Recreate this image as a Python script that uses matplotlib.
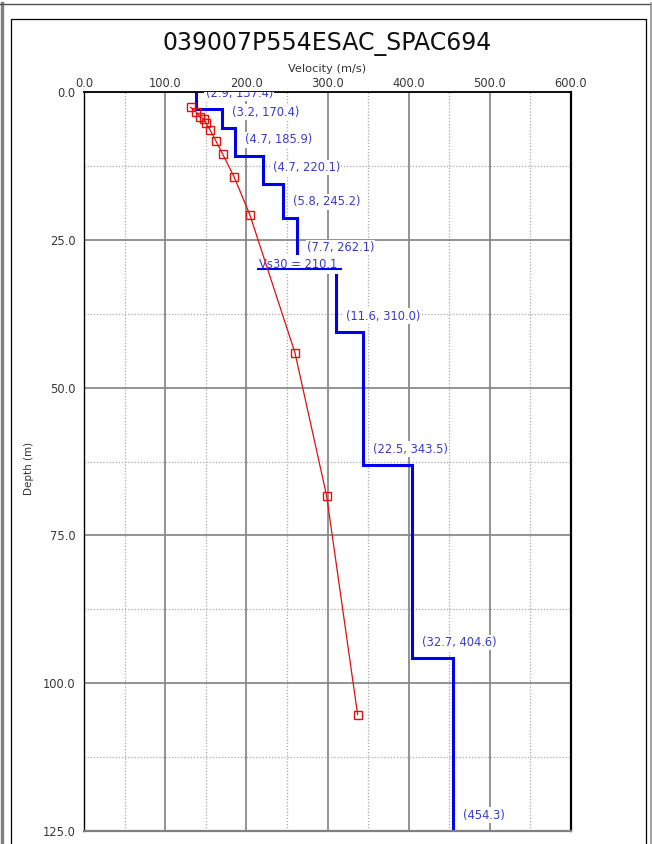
import matplotlib
matplotlib.use("Agg")
import matplotlib.pyplot as plt
import numpy as np
from matplotlib.lines import Line2D
from matplotlib.ticker import MultipleLocator, FormatStrFormatter

# ---------------- data ----------------
title = "039007P554ESAC_SPAC694"
x_label = "Velocity (m/s)"
y_label = "Depth (m)"
layer_thickness = [2.9, 3.2, 4.7, 4.7, 5.8, 7.7, 11.6, 22.5, 32.7]
layer_vs = [137.4, 170.4, 185.9, 220.1, 245.2, 262.1, 310.0, 343.5, 404.6, 454.3]
vs30 = 210.1
vs30_depth = 30.0
curve_v = [131.4, 138.3, 142.9, 148.2, 150.2, 155.2, 162.6, 170.8, 185.1,
           204.4, 259.9, 298.9, 337.1]
curve_d = [2.6, 3.4, 4.2, 4.6, 5.3, 6.4, 8.3, 10.5, 14.4,
           20.8, 44.1, 68.3, 105.3]
x_ticks = [0, 100, 200, 300, 400, 500, 600]
y_ticks = [0, 25, 50, 75, 100, 125]
max_depth = 125.0

# ---------------- figure ----------------
W, H = 652, 844
fig = plt.figure(figsize=(W / 100, H / 100), dpi=100)
fig.patch.set_facecolor("white")

def fx(px):
    return px / W

def fy(py):
    return 1 - py / H

# frame decorations
fig.add_artist(Line2D([fx(1.5), fx(1.5)], [0, fy(3)], color="#808080", lw=2.4))
fig.add_artist(Line2D([0, 1], [fy(3.5), fy(3.5)], color="#505050", lw=1.0))
fig.add_artist(Line2D([fx(650.5), fx(650.5)], [0, fy(3)], color="#909090", lw=1.2))
fig.add_artist(Line2D([fx(10.5), fx(10.5), fx(645.5), fx(645.5)],
                      [0, fy(18.5), fy(18.5), 0], color="black", lw=0.9))

ax = fig.add_axes([fx(84), fy(831), fx(571) - fx(84), fy(92) - fy(831)])

ax.set_xlim(x_ticks[0], x_ticks[-1])
ax.set_ylim(max_depth, 0)

ax.xaxis.tick_top()
ax.set_xticks(x_ticks)
ax.set_yticks(y_ticks)
ax.xaxis.set_major_formatter(FormatStrFormatter("%.1f"))
ax.yaxis.set_major_formatter(FormatStrFormatter("%.1f"))
ax.xaxis.set_minor_locator(MultipleLocator(50))
ax.yaxis.set_minor_locator(MultipleLocator(12.5))
ax.tick_params(which="both", length=0)
ax.tick_params(axis="x", pad=1.5, labelsize=8.3, labelcolor="#383838")
ax.tick_params(axis="y", pad=6, labelsize=8.3, labelcolor="#383838")

ax.set_axisbelow(True)
ax.grid(which="major", color="#8a8a8a", lw=1.3, ls="-")
ax.grid(which="minor", color="#a8a8a8", lw=0.9, ls=(0, (1, 1.5)))

for side, col, lw in [("top", "black", 1.3), ("left", "black", 1.0),
                      ("right", "black", 1.6), ("bottom", "#808080", 1.6)]:
    ax.spines[side].set_color(col)
    ax.spines[side].set_linewidth(lw)

# ---------------- layered profile ----------------
bottoms = list(np.cumsum(layer_thickness)) + [max_depth]
tops = [0.0] + list(np.cumsum(layer_thickness))
px_, py_ = [], []
for v, t, b in zip(layer_vs, tops, bottoms):
    px_ += [v, v]
    py_ += [t, b]
ax.plot(px_, py_, color="#0000ee", lw=2.2, zorder=2, solid_joinstyle="miter")

label_color = "#3a3ac8"
for i, (v, b) in enumerate(zip(layer_vs, bottoms)):
    if i < len(layer_thickness):
        s = f"({layer_thickness[i]:.1f}, {v:.1f})"
    else:
        s = f"({v:.1f})"
    a = ax.annotate(s, xy=(v, b), xytext=(10, 16), textcoords="offset pixels",
                    ha="left", va="center", fontsize=8.3, color=label_color,
                    bbox=dict(boxstyle="square,pad=0.1", fc="white", ec="none"),
                    annotation_clip=False, zorder=3)
    a.set_clip_on(True)
    a.set_clip_path(ax.patch)

# Vs30 annotation
t = ax.annotate(f"Vs30 = {vs30:.1f}", xy=(vs30, vs30_depth), xytext=(4, 1),
                textcoords="offset pixels", ha="left", va="baseline",
                fontsize=8.3, color=label_color,
                bbox=dict(boxstyle="square,pad=0.25", fc="white", ec="none"),
                zorder=3)
fig.canvas.draw()
bb = t.get_window_extent(renderer=fig.canvas.get_renderer())
inv = ax.transData.inverted()
x0 = inv.transform((bb.x0 - 1, 0))[0]
x1 = inv.transform((bb.x1 + 4, 0))[0]
ax.plot([x0, x1], [vs30_depth, vs30_depth], color="#0000ee", lw=1.5, zorder=3.5)

# ---------------- dispersion curve ----------------
ax.plot(curve_v, curve_d, color="#e01010", lw=0.9, marker="s", ms=6,
        mfc="none", mec="#e01010", mew=1.0, zorder=4, clip_on=False)

# ---------------- texts ----------------
fig.text(0.5023, fy(44), title, ha="center", va="center", fontsize=17,
         color="#111111")
ax.text(0.5, 1 + 23 / 739, x_label, transform=ax.transAxes, ha="center",
        va="center", fontsize=8.2, color="#333333")
fig.text(fx(29), fy(468), y_label, rotation=90, ha="center", va="center",
         fontsize=7.5, color="#333333")

fig.savefig("out.png", dpi=100)
